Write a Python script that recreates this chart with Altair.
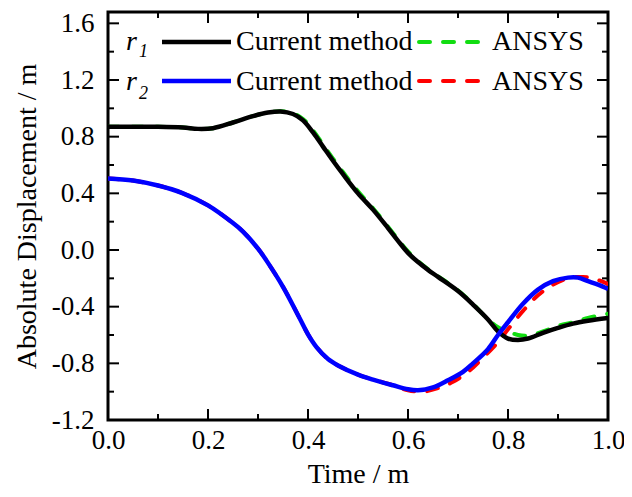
import altair as alt
import pandas as pd

# ---------------- data ----------------
r1_cur_x = [0.0, 0.05, 0.10, 0.15, 0.18, 0.21, 0.25, 0.29, 0.32, 0.345, 0.37, 0.39, 0.41, 0.43, 0.45,
            0.47, 0.50, 0.53, 0.56, 0.58, 0.60, 0.62, 0.64, 0.66, 0.70, 0.73, 0.76, 0.78, 0.80, 0.82, 0.84, 0.87,
            0.90, 0.93, 0.96, 1.0]
r1_cur_y = [0.87, 0.87, 0.87, 0.865, 0.855, 0.86, 0.90, 0.945, 0.97, 0.978, 0.96, 0.915, 0.83, 0.73, 0.63,
            0.535, 0.40, 0.285, 0.155, 0.065, -0.02, -0.085, -0.14, -0.19, -0.29, -0.385, -0.49, -0.575, -0.625, -0.635, -0.625, -0.585,
            -0.55, -0.52, -0.50, -0.48]

r1_ans_x = [0.0, 0.05, 0.10, 0.15, 0.18, 0.21, 0.25, 0.29, 0.32, 0.345, 0.37, 0.39, 0.41, 0.43, 0.45,
            0.47, 0.50, 0.53, 0.56, 0.58, 0.60, 0.62, 0.64, 0.66, 0.70, 0.73, 0.76, 0.78, 0.80, 0.82, 0.84, 0.87,
            0.90, 0.93, 0.96, 1.0]
r1_ans_y = [0.87, 0.87, 0.87, 0.865, 0.855, 0.86, 0.90, 0.945, 0.97, 0.98, 0.965, 0.925, 0.845, 0.745, 0.645,
            0.55, 0.415, 0.295, 0.165, 0.075, -0.01, -0.078, -0.135, -0.185, -0.285, -0.38, -0.49, -0.545, -0.575, -0.60, -0.605, -0.575,
            -0.535, -0.51, -0.48, -0.45]

r2_cur_x = [0.0, 0.05, 0.10, 0.15, 0.20, 0.25, 0.27, 0.30, 0.317, 0.35, 0.383, 0.40, 0.417, 0.44, 0.46,
            0.50, 0.53, 0.57, 0.60, 0.62, 0.65, 0.68, 0.71, 0.73, 0.76, 0.78, 0.80, 0.83, 0.86, 0.89,
            0.92, 0.94, 0.96, 0.98, 1.0]
r2_cur_y = [0.505, 0.49, 0.455, 0.40, 0.315, 0.19, 0.13, 0.01, -0.075, -0.26, -0.48, -0.595, -0.685, -0.77, -0.815,
            -0.88, -0.915, -0.955, -0.983, -0.99, -0.97, -0.92, -0.86, -0.80, -0.70, -0.60, -0.51, -0.38, -0.28, -0.22,
            -0.195, -0.195, -0.22, -0.245, -0.275]

r2_ans_x = [0.0, 0.05, 0.10, 0.15, 0.20, 0.25, 0.27, 0.30, 0.317, 0.35, 0.383, 0.40, 0.417, 0.44, 0.46,
            0.50, 0.53, 0.57, 0.60, 0.63, 0.66, 0.69, 0.72, 0.75, 0.78, 0.80, 0.83, 0.86, 0.89, 0.92,
            0.95, 0.97, 1.0]
r2_ans_y = [0.505, 0.49, 0.455, 0.40, 0.315, 0.19, 0.13, 0.01, -0.075, -0.26, -0.48, -0.595, -0.685, -0.77, -0.815,
            -0.88, -0.915, -0.955, -0.99, -1.0, -0.975, -0.93, -0.86, -0.76, -0.65, -0.56, -0.43, -0.32, -0.245, -0.20,
            -0.19, -0.20, -0.24]

x_major = [0.0, 0.2, 0.4, 0.6, 0.8, 1.0]
x_minor = [0.1, 0.3, 0.5, 0.7, 0.9]
y_major = [-1.2, -0.8, -0.4, 0.0, 0.4, 0.8, 1.2, 1.6]
y_minor = [-1.0, -0.6, -0.2, 0.2, 0.6, 1.0, 1.4]

x_title = "Time / m"
y_title = "Absolute Displacement / m"
legend_rows = ["1", "2"]
legend_label_a = "Current method"
legend_label_b = "ANSYS"

# ---------------- styling ----------------
W, H = 500, 408
FONT = "Liberation Serif"
BLACK, BLUE, GREEN, RED = "#000000", "#0000ff", "#11dd11", "#ff0000"

xs = alt.Scale(domain=[0, 1], nice=False, zero=False)
ys = alt.Scale(domain=[-1.2, 1.68], nice=False, zero=False)

lbl = "datum.value < 0 ? '-' + format(-datum.value, '.1f') : format(datum.value, '.1f')"

x_axis = alt.Axis(values=x_major, labelExpr=lbl, ticks=False, domain=False, grid=False,
                  labelFont=FONT, labelFontSize=27, labelColor="black", labelPadding=7,
                  labelFlush=False, labelOverlap=False,
                  title=x_title, titleFont=FONT, titleFontSize=28, titleFontWeight="normal",
                  titleColor="black", titlePadding=7)
y_axis = alt.Axis(values=y_major, labelExpr=lbl, ticks=False, domain=False, grid=False,
                  labelFont=FONT, labelFontSize=27, labelColor="black", labelPadding=14,
                  labelFlush=False, labelOverlap=False,
                  title=y_title, titleFont=FONT, titleFontSize=28, titleFontWeight="normal",
                  titleColor="black", titlePadding=10)


def series(xv, yv, color, dashed=False, axes=False):
    df = pd.DataFrame({"x": xv, "y": yv})
    if dashed:
        m = alt.Chart(df).mark_line(color=color, strokeWidth=4, strokeDash=[11, 13],
                                    strokeCap="round", interpolate="catmull-rom", clip=True)
    else:
        m = alt.Chart(df).mark_line(color=color, strokeWidth=4.5, interpolate="catmull-rom", clip=True)
    return m.encode(
        x=alt.X("x:Q", scale=xs, axis=x_axis if axes else None),
        y=alt.Y("y:Q", scale=ys, axis=y_axis if axes else None),
    )


layers = [
    series(r1_ans_x, r1_ans_y, GREEN, dashed=True, axes=True),
    series(r2_ans_x, r2_ans_y, RED, dashed=True),
    series(r1_cur_x, r1_cur_y, BLACK),
    series(r2_cur_x, r2_cur_y, BLUE),
]

# inward ticks on all four sides
xt = pd.DataFrame({"v": x_major + x_minor, "len": [11] * len(x_major) + [6] * len(x_minor)})
yt = pd.DataFrame({"v": y_major + y_minor, "len": [11] * len(y_major) + [6] * len(y_minor)})

tb = alt.Chart(xt).transform_calculate(y0=f"{H}", y1=f"{H} - datum.len").mark_rule(
    color="black", strokeWidth=2).encode(
    x=alt.X("v:Q", scale=xs, axis=None),
    y=alt.Y("y0:Q", scale=None, axis=None), y2="y1:Q")
tt = alt.Chart(xt).transform_calculate(y0="0", y1="datum.len").mark_rule(
    color="black", strokeWidth=2).encode(
    x=alt.X("v:Q", scale=xs, axis=None),
    y=alt.Y("y0:Q", scale=None, axis=None), y2="y1:Q")
tl = alt.Chart(yt).transform_calculate(x0="0", x1="datum.len").mark_rule(
    color="black", strokeWidth=2).encode(
    y=alt.Y("v:Q", scale=ys, axis=None),
    x=alt.X("x0:Q", scale=None, axis=None), x2="x1:Q")
tr = alt.Chart(yt).transform_calculate(x0=f"{W}", x1=f"{W} - datum.len").mark_rule(
    color="black", strokeWidth=2).encode(
    y=alt.Y("v:Q", scale=ys, axis=None),
    x=alt.X("x0:Q", scale=None, axis=None), x2="x1:Q")

# legend
leg = pd.DataFrame({
    "sub": legend_rows,
    "ly": [30, 69],
    "ty": [38, 78],
    "sy": [45, 87],
    "solid": [BLACK, BLUE],
    "dash": [GREEN, RED],
    "a": [legend_label_a] * 2,
    "b": [legend_label_b] * 2,
})
base = alt.Chart(leg)
leg_solid = base.mark_rule(strokeWidth=4.5).encode(
    x=alt.value(54), x2=alt.value(123), y=alt.Y("ly:Q", scale=None, axis=None),
    color=alt.Color("solid:N", scale=None))
leg_dash = base.mark_rule(strokeWidth=4, strokeDash=[11, 13], strokeCap="round").encode(
    x=alt.value(311), x2=alt.value(374), y=alt.Y("ly:Q", scale=None, axis=None),
    color=alt.Color("dash:N", scale=None))
leg_r = base.mark_text(text="r", font=FONT, fontSize=28, fontStyle="italic", align="left",
                       baseline="alphabetic", color="black").encode(
    x=alt.value(18), y=alt.Y("ty:Q", scale=None, axis=None))
leg_sub = base.mark_text(font=FONT, fontSize=18, fontStyle="italic", align="left",
                         baseline="alphabetic", color="black").encode(
    x=alt.value(31), y=alt.Y("sy:Q", scale=None, axis=None), text="sub:N")
leg_a = base.mark_text(font=FONT, fontSize=28, align="left", baseline="alphabetic",
                       color="black").encode(
    x=alt.value(128), y=alt.Y("ty:Q", scale=None, axis=None), text="a:N")
leg_b = base.mark_text(font=FONT, fontSize=28, align="left", baseline="alphabetic",
                       color="black").encode(
    x=alt.value(384), y=alt.Y("ty:Q", scale=None, axis=None), text="b:N")

chart = alt.layer(
    *layers, tb, tt, tl, tr, leg_solid, leg_dash, leg_r, leg_sub, leg_a, leg_b
).resolve_scale(y="independent", x="independent").properties(
    width=W, height=H,
    autosize=alt.AutoSizeParams(type="none"),
    padding={"left": 100, "top": 4, "right": 16, "bottom": 69},
    background="white",
).configure_view(stroke="black", strokeWidth=3)

chart.save("out.html", embed_options={"renderer": "svg", "actions": False})
